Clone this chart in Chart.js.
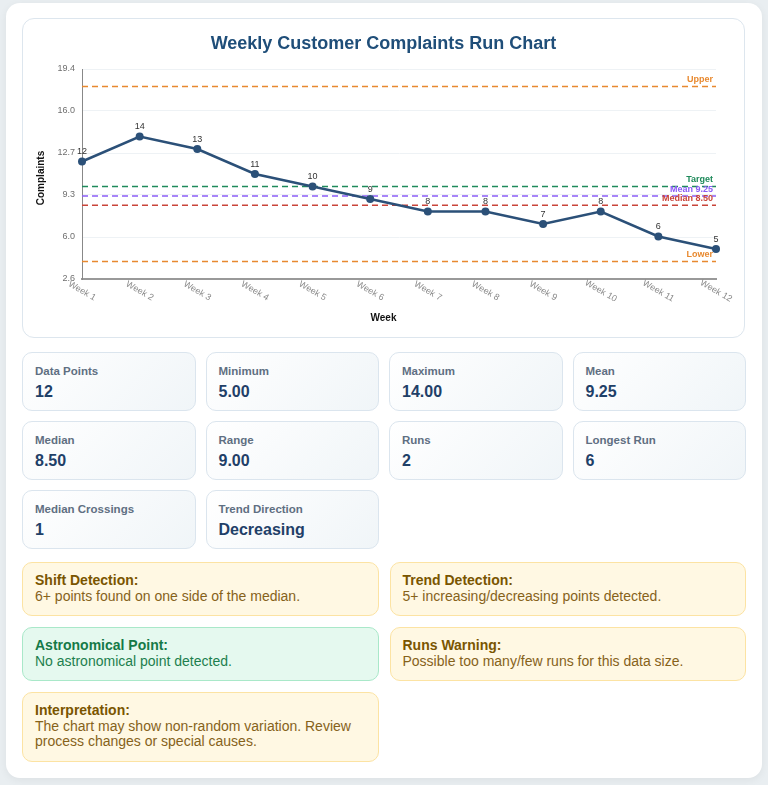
<!DOCTYPE html>
<html>
<head>
<meta charset="utf-8">
<title>Weekly Customer Complaints Run Chart</title>
<script src="https://cdn.jsdelivr.net/npm/chart.js@4.4.1/dist/chart.umd.min.js"></script>
<style>
    * { box-sizing: border-box; }
    body {
        margin: 0;
        background: #e9eef1;
        font-family: Arial, "Liberation Sans", Helvetica, sans-serif;
    }
    .wrap {
        position: absolute;
        left: 6px;
        top: 3px;
        width: 756px;
        height: 775px;
        background: #fff;
        border-radius: 14px;
        box-shadow: 0 2px 8px rgba(0, 0, 0, 0.06);
        padding: 15px 16px;
    }
    .chart-card {
        position: relative;
        width: 723px;
        height: 320px;
        border: 1px solid #dde6ee;
        border-radius: 12px;
        background: #fff;
    }
    .chart-card h3 {
        position: absolute;
        top: 14px;
        left: 0;
        right: 0;
        margin: 0;
        text-align: center;
        font-size: 18px;
        line-height: 20px;
        font-weight: bold;
        color: #1f4e79;
    }
    .chart-card canvas { display: block; }
    .stats {
        margin-top: 14px;
        display: grid;
        grid-template-columns: repeat(4, 1fr);
        gap: 10px;
    }
    .stat {
        height: 59px;
        border: 1px solid #dbe5ee;
        border-radius: 10px;
        background: linear-gradient(135deg, #ffffff, #f0f5f8);
        padding: 11px 12px;
    }
    .stat .label {
        font-size: 11.5px;
        font-weight: bold;
        color: #5f6f82;
        line-height: 14px;
    }
    .stat .value {
        margin-top: 4px;
        font-size: 16px;
        font-weight: bold;
        color: #1f4068;
        line-height: 19px;
    }
    .alerts {
        margin-top: 13px;
        display: grid;
        grid-template-columns: 1fr 1fr;
        column-gap: 11px;
        row-gap: 11px;
        align-items: start;
    }
    .alert {
        border-radius: 10px;
        padding: 10px 12px 11px;
        font-size: 14px;
        line-height: 15.5px;
        background: #fff8e3;
        border: 1px solid #fce3a3;
        color: #86621a;
    }
    .alert b { display: block; color: #7a5500; }
    .alert.ok {
        background: #e5f9ef;
        border-color: #a9e8c9;
        color: #1d7f4e;
    }
    .alert.ok b { color: #157a47; }
</style>
</head>
<body>
<div class="wrap">
    <div class="chart-card">
        <h3>Weekly Customer Complaints Run Chart</h3>
        <canvas id="run-chart" width="721" height="318"></canvas>
    </div>

    <div class="stats">
        <div class="stat"><div class="label">Data Points</div><div class="value">12</div></div>
        <div class="stat"><div class="label">Minimum</div><div class="value">5.00</div></div>
        <div class="stat"><div class="label">Maximum</div><div class="value">14.00</div></div>
        <div class="stat"><div class="label">Mean</div><div class="value">9.25</div></div>
        <div class="stat"><div class="label">Median</div><div class="value">8.50</div></div>
        <div class="stat"><div class="label">Range</div><div class="value">9.00</div></div>
        <div class="stat"><div class="label">Runs</div><div class="value">2</div></div>
        <div class="stat"><div class="label">Longest Run</div><div class="value">6</div></div>
        <div class="stat"><div class="label">Median Crossings</div><div class="value">1</div></div>
        <div class="stat"><div class="label">Trend Direction</div><div class="value">Decreasing</div></div>
    </div>

    <div class="alerts">
        <div class="alert"><b>Shift Detection:</b>6+ points found on one side of the median.</div>
        <div class="alert"><b>Trend Detection:</b>5+ increasing/decreasing points detected.</div>
        <div class="alert ok"><b>Astronomical Point:</b>No astronomical point detected.</div>
        <div class="alert"><b>Runs Warning:</b>Possible too many/few runs for this data size.</div>
        <div class="alert"><b>Interpretation:</b>The chart may show non-random variation. Review process changes or special causes.</div>
    </div>
</div>

<script>
// Run chart data
const weeks = ['Week 1', 'Week 2', 'Week 3', 'Week 4', 'Week 5', 'Week 6',
               'Week 7', 'Week 8', 'Week 9', 'Week 10', 'Week 11', 'Week 12'];
const complaints = [12, 14, 13, 11, 10, 9, 8, 8, 7, 8, 6, 5];

// Reference lines (upper, target, mean, median, lower)
const refNames = ['Upper', 'Target', 'Mean 9.25', 'Median 8.50', 'Lower'];
const refValues = [18, 10, 9.25, 8.5, 4];
const refColors = ['#e8892f', '#1f8a5b', '#8b5cf6', '#c9443a', '#e8892f'];

// Y axis ticks
const yTicks = [2.6, 5.96, 9.32, 12.68, 16.04, 19.4];

// Axis titles
const xTitle = 'Week';
const yTitle = 'Complaints';

// Draws point values, reference labels, slanted week labels and axis titles
const labelPlugin = {
    id: 'runLabels',
    afterDatasetsDraw(chart) {
        const ctx = chart.ctx;
        const area = chart.chartArea;
        const x = chart.scales.x;
        const y = chart.scales.y;

        ctx.save();

        // values above the points
        ctx.font = '9px Arial, "Liberation Sans", sans-serif';
        ctx.fillStyle = '#333';
        ctx.textAlign = 'center';
        ctx.textBaseline = 'bottom';
        chart.getDatasetMeta(0).data.forEach(function(pt, i) {
            ctx.fillText(complaints[i], pt.x, pt.y - 5);
        });

        // reference line names at the right end
        ctx.font = 'bold 9px Arial, "Liberation Sans", sans-serif';
        ctx.textAlign = 'right';
        refValues.forEach(function(v, i) {
            ctx.fillStyle = refColors[i];
            ctx.fillText(refNames[i], area.right - 3, y.getPixelForValue(v) - 2);
        });

        // week labels, tilted
        ctx.font = '9px Arial, "Liberation Sans", sans-serif';
        ctx.fillStyle = '#8a8a8a';
        ctx.textAlign = 'center';
        ctx.textBaseline = 'middle';
        weeks.forEach(function(w, i) {
            ctx.save();
            ctx.translate(x.getPixelForValue(i), area.bottom + 12);
            ctx.rotate(Math.PI / 6);
            ctx.fillText(w, 0, 0);
            ctx.restore();
        });

        // axis titles, centred on the canvas
        ctx.font = 'bold 10px Arial, "Liberation Sans", sans-serif';
        ctx.fillStyle = '#111';
        ctx.fillText(xTitle, chart.width / 2, chart.height - 19);
        ctx.save();
        ctx.translate(18, chart.height / 2);
        ctx.rotate(-Math.PI / 2);
        ctx.fillText(yTitle, 0, 0);
        ctx.restore();

        ctx.restore();
    }
};

document.addEventListener('DOMContentLoaded', function() {
    initRunChart();
});

function initRunChart() {
    const ctx = document.getElementById('run-chart');
    if (!ctx) return;

    Chart.defaults.font.family = 'Arial, "Liberation Sans", sans-serif';

    const refSets = refValues.map(function(v, i) {
        return {
            label: refNames[i],
            data: weeks.map(function() { return v; }),
            borderColor: refColors[i],
            borderWidth: 1.5,
            borderDash: [6, 4],
            pointRadius: 0,
            fill: false
        };
    });

    new Chart(ctx, {
        type: 'line',
        data: {
            labels: weeks,
            datasets: [{
                label: 'Complaints',
                data: complaints,
                borderColor: '#2b5078',
                backgroundColor: '#2b5078',
                borderWidth: 2.5,
                pointRadius: 4,
                pointBackgroundColor: '#2b5078',
                pointBorderWidth: 0,
                tension: 0,
                fill: false
            }].concat(refSets)
        },
        options: {
            responsive: false,
            animation: false,
            layout: {
                padding: { left: 27.5, right: 28, top: 50, bottom: 58 }
            },
            scales: {
                x: {
                    offset: false,
                    grid: { display: false, drawTicks: false },
                    border: { color: '#999', width: 2 },
                    ticks: { display: false }
                },
                y: {
                    min: 2.6,
                    max: 19.4,
                    afterBuildTicks: function(axis) {
                        axis.ticks = yTicks.map(function(v) { return { value: v }; });
                    },
                    grid: { color: '#eef2f5', drawTicks: false },
                    border: { color: '#888', width: 1 },
                    ticks: {
                        padding: 7,
                        color: '#6f6f6f',
                        font: { size: 9 },
                        callback: function(value) {
                            return Number(value).toFixed(1);
                        }
                    }
                }
            },
            plugins: {
                legend: { display: false },
                tooltip: { enabled: false }
            }
        },
        plugins: [labelPlugin]
    });
}
</script>
</body>
</html>
